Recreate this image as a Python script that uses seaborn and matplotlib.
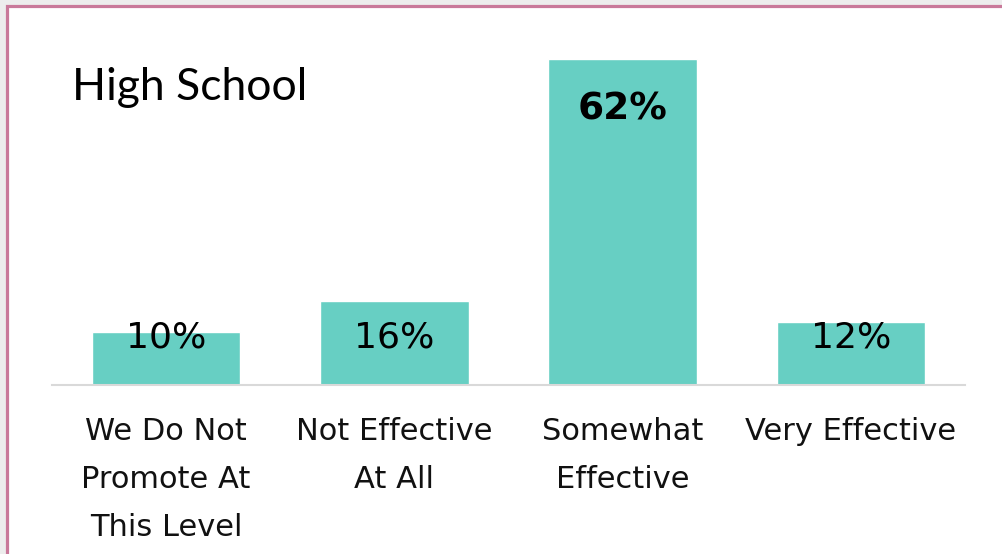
import matplotlib
matplotlib.use("Agg")
import matplotlib.pyplot as plt
import seaborn as sns
import pandas as pd
from matplotlib.patches import Rectangle

# Survey results: effectiveness of promotion at the high school level
categories = ["We Do Not\nPromote At\nThis Level", "Not Effective\nAt All",
              "Somewhat\nEffective", "Very Effective"]
values = [10, 16, 62, 12]
title = "High School"

BAR_COLOR = "#67cfc3"
BORDER_COLOR = "#c9799a"
W, H = 1003, 554

sns.set_theme(style="white")
plt.rcParams["font.family"] = ["DejaVu Sans"]

fig = plt.figure(figsize=(W / 100, H / 100), dpi=100, facecolor="#ededed")

# White card with a pink frame running off the right and bottom edges
fig.patches.append(Rectangle((7.5 / W, -0.1), 1.2, 1 - 5.5 / H + 0.1,
                             transform=fig.transFigure, facecolor="white",
                             edgecolor=BORDER_COLOR, linewidth=2.3, zorder=-10))

ax = fig.add_axes([52 / W, (H - 385) / H, (965 - 52) / W, (385 - 17) / H])
ax.set_facecolor("none")

df = pd.DataFrame({"category": categories, "value": values})
sns.barplot(data=df, x="category", y="value", color=BAR_COLOR, width=0.65,
            saturation=1, ax=ax)

ax.set_xlim(-0.5, 3.5)
ax.set_ylim(0, 70)
ax.set_xlabel("")
ax.set_ylabel("")
ax.set_yticks([])
for side in ("left", "right", "top"):
    ax.spines[side].set_visible(False)
ax.spines["bottom"].set_color("#d9d9d9")
ax.spines["bottom"].set_linewidth(1.5)
ax.tick_params(axis="x", length=0, pad=23, labelsize=22, labelcolor="#111111")
for lbl in ax.get_xticklabels():
    lbl.set_linespacing(1.83)
    lbl.set_verticalalignment("top")

# Value labels: the leading bar gets a bold label inside its top
top = max(values)
for i, v in enumerate(values):
    if v == top:
        ax.text(i, v - 9.5, f"{v}%", ha="center", va="center", fontsize=27,
                fontweight="bold", color="black")
    else:
        ax.text(i, 9.1, f"{v}%", ha="center", va="center", fontsize=26,
                color="black")

fig.text(72 / W, 1 - 100 / H, title, ha="left", va="baseline",
         fontsize=32, family=["Lato", "DejaVu Sans"], color="black")

fig.savefig("out.png", dpi=100, facecolor=fig.get_facecolor())
